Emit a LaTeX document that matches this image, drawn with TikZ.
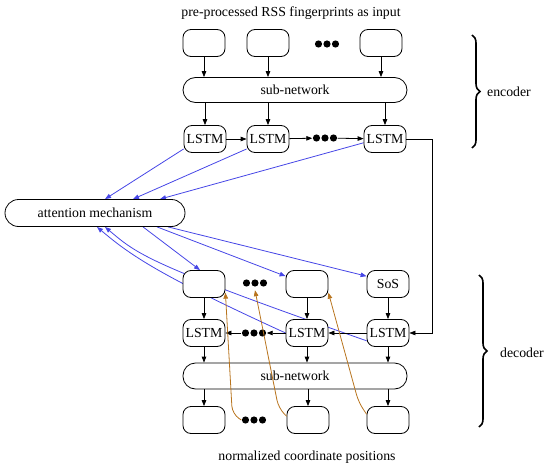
\documentclass[tikz,border=0pt]{standalone}
\usepackage{fontspec}
\setmainfont{Liberation Serif}
\usetikzlibrary{arrows.meta,positioning,backgrounds,decorations.pathreplacing}
\definecolor{attnblue}{HTML}{4646E6}
\definecolor{copper}{HTML}{B8741E}

\begin{document}
\begin{tikzpicture}[
  x=1pt, y=-1pt,
  font=\fontsize{13.8}{16}\selectfont,
  cell/.style={draw, fill=white, rounded corners=8pt, minimum width=42pt, minimum height=27pt, inner sep=1pt, line width=0.8pt},
  pill/.style={draw, fill=white, rounded corners=12.5pt, minimum height=25pt, line width=0.8pt},
  dots/.style={minimum width=25pt, minimum height=14pt, inner sep=0pt,
    path picture={\foreach \i in {-8.5,0,8.5} \fill (path picture bounding box.center) ++(\i pt,0pt) circle (3.6pt);}},
  arr/.style={-{Triangle[length=6pt,width=4.5pt]}, line width=0.8pt},
  att/.style={arr, attnblue},
  fb/.style={arr, copper, rounded corners=8pt},
  brc/.style={decorate, decoration={brace, amplitude=8pt}, line width=1.6pt}
]
  \useasboundingbox (0,0) rectangle (550,466);

  % encoder
  \node (inlabel) at (291,13) {pre-processed RSS fingerprints as input};
  \node[cell] (in1) at (204,43) {};
  \node[cell] (in2) at (268,43) {};
  \node[dots] (indots) at (327,44) {};
  \node[cell] (in3) at (381,43) {};
  \node[pill, minimum width=224pt] (sub1) at (295,90) {sub-network};
  \node[cell] (l1) at (205,139) {LSTM};
  \node[cell] (l2) at (268,139) {LSTM};
  \node[dots] (ldots) at (325,138) {};
  \node[cell] (l3) at (385,139) {LSTM};

  \foreach \n in {in1,in2,in3}
    \draw[arr] (\n) -- (\n |- sub1.north);
  \foreach \n in {l1,l2,l3}
    \draw[arr] (\n |- sub1.south) -- (\n);
  \draw[arr] (l1) -- (l2);
  \draw[arr] (l2) -- (ldots);
  \draw[arr] (ldots) -- (l3);

  % attention
  \node[pill, minimum width=180pt, minimum height=27pt, rounded corners=13.5pt] (attn) at (95,213) {attention mechanism};

  % decoder
  \node[cell] (d1) at (204,284) {};
  \node[dots] (ddots) at (255,283) {};
  \node[cell] (d2) at (307,284) {};
  \node[cell] (sos) at (388,284) {SoS};
  \node[cell] (m1) at (204,333) {LSTM};
  \node[dots] (mdots) at (254,333) {};
  \node[cell] (m2) at (307,333) {LSTM};
  \node[cell] (m3) at (388,333) {LSTM};
  \node[pill, minimum width=224pt, minimum height=26pt] (sub2) at (295,376) {sub-network};
  \node[cell] (o1) at (204,420) {};
  \node[dots] (odots) at (254,420) {};
  \node[cell] (o2) at (308,420) {};
  \node[cell] (o3) at (388,420) {};
  \node (outlabel) at (307,457) {normalized coordinate positions};

  \foreach \a/\b in {d1/m1,d2/m2,sos/m3}
    \draw[arr] (\a) -- (\b);
  \draw[arr] (m3) -- (m2);
  \draw[arr] (m2) -- (mdots);
  \draw[arr] (mdots) -- (m1);
  \foreach \n in {m1,m2,m3}
    \draw[arr] (\n) -- (\n |- sub2.north);
  \foreach \n in {o1,o2,o3}
    \draw[arr] (\n |- sub2.south) -- (\n);

  \draw[arr, line width=0.6pt] (l3.east) -- ++(26,0) |- (m3.east);

  % attention links
  \begin{scope}[on background layer]
    \draw[att] (l1.205) -- ([xshift=10]attn.north);
    \draw[att] (l2.205) -- ([xshift=38]attn.north);
    \draw[att] (l3.190) -- ([xshift=65]attn.north);
    \draw[att] ([xshift=48]attn.south) -- ([xshift=-4]d1.north);
    \draw[att] ([xshift=62]attn.south) -- (d2.160);
    \draw[att] ([xshift=73]attn.south) -- (sos.160);
    \draw[att] (m2.west) .. controls +(-127,-58) and +(33,28) .. ([xshift=2]attn.south);
    \draw[att] (m3.200) .. controls +(-217,-76) and +(33,28) .. ([xshift=10]attn.south);
  \end{scope}

  % fed back outputs
  \draw[fb] (odots.west) -- ++(-9,-6) -- (d1.-22);
  \draw[fb] (o2.170) -- ++(-8,-8) -- (ddots.south);
  \draw[fb] (o3.165) -- ++(-8,-12) -- (d2.-22);

  % braces
  \draw[brc] (472,35) -- (472,148);
  \node (enc) at (509,92) {encoder};
  \draw[brc] (479,275) -- (479,427);
  \node (dec) at (522,353) {decoder};
\end{tikzpicture}
\end{document}
